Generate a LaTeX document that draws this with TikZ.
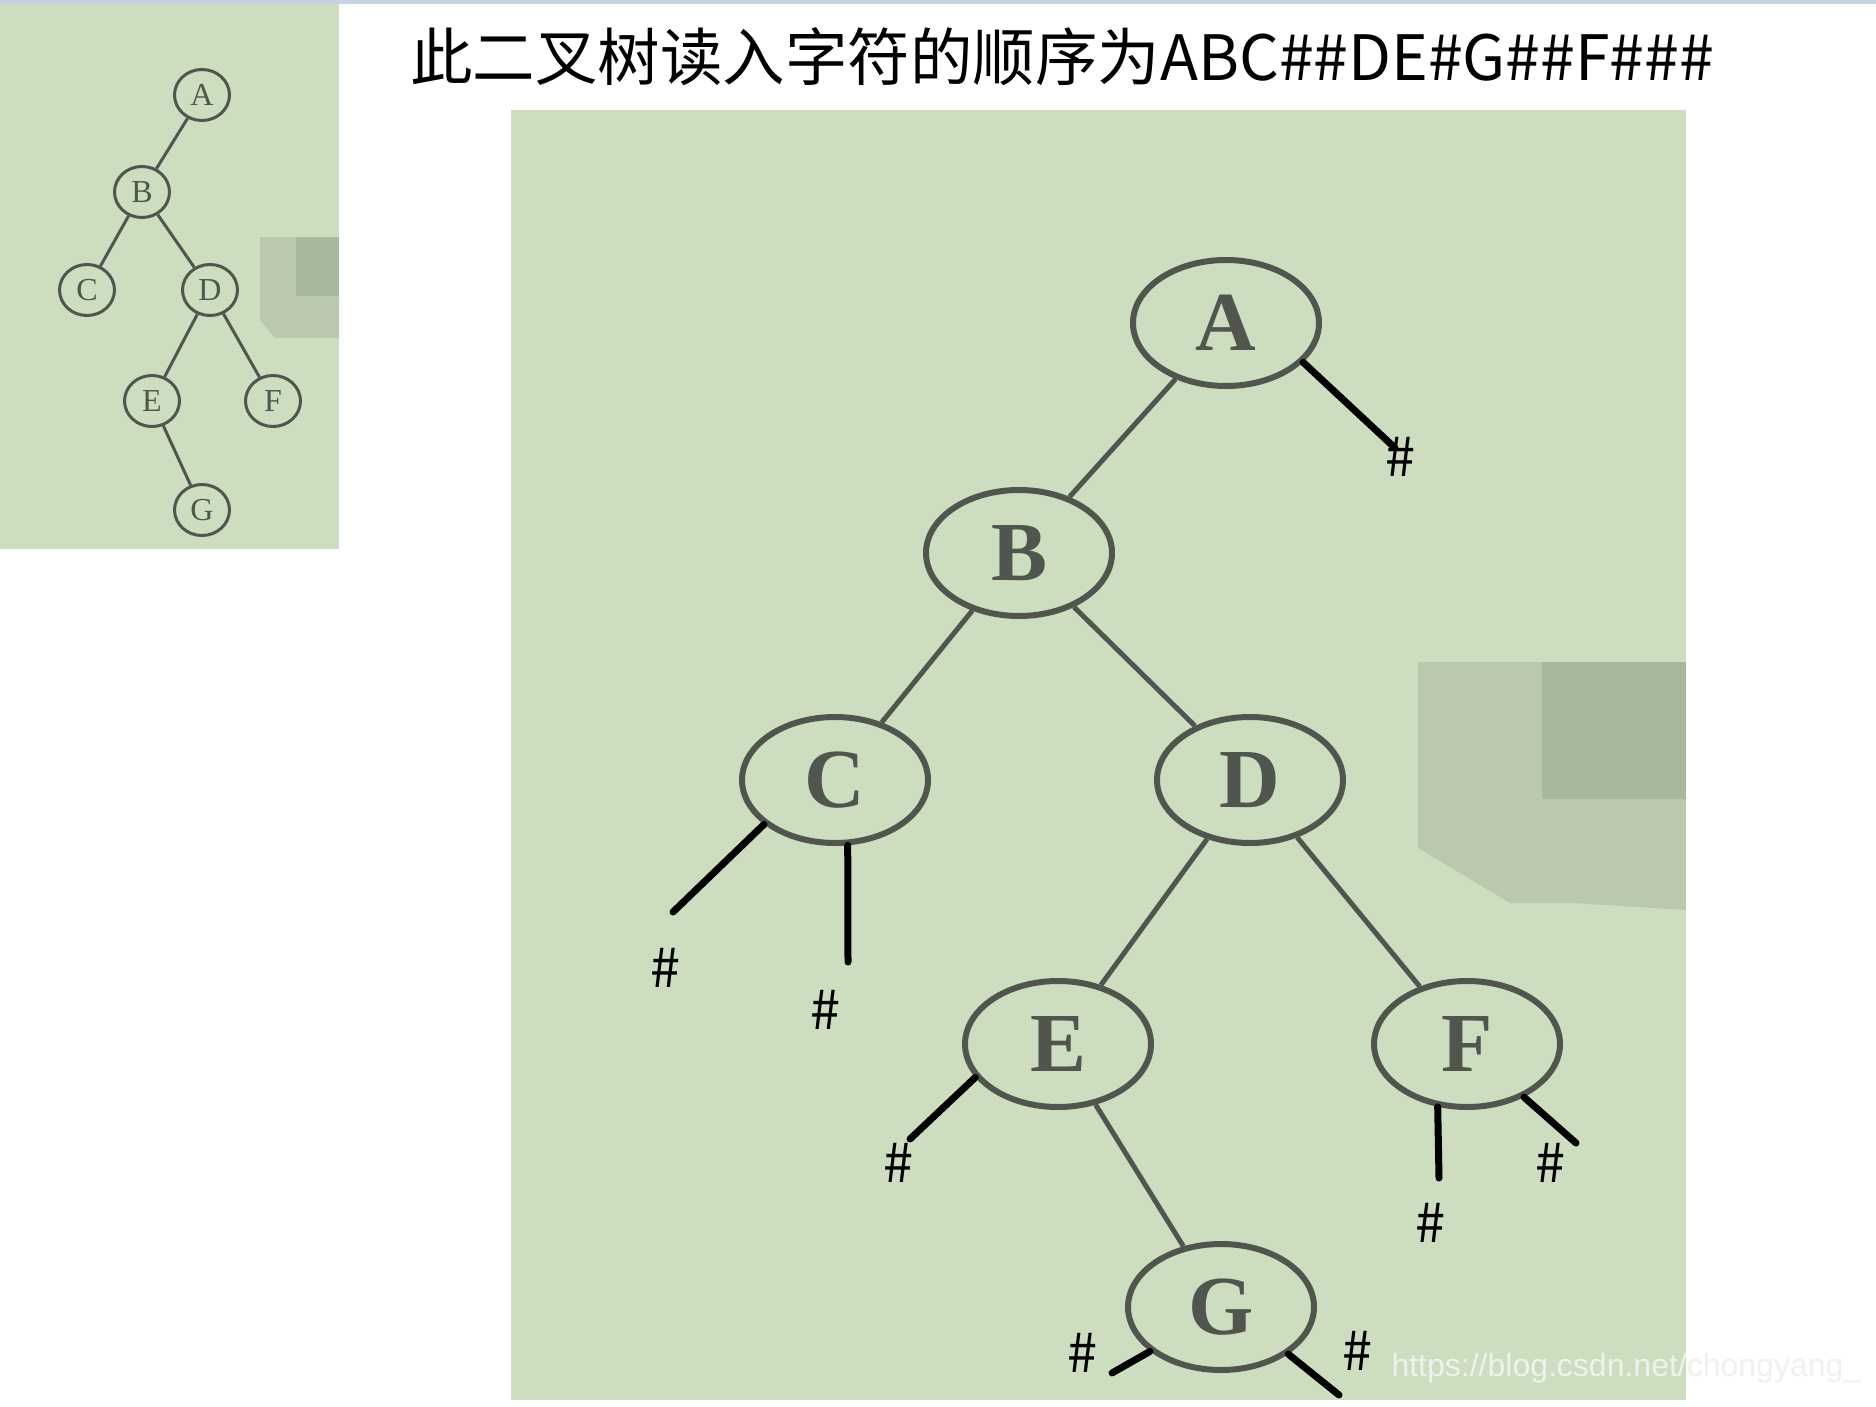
\documentclass[tikz,border=0pt]{standalone}
\usepackage{fontspec}
\setmainfont{Liberation Serif}
\newfontfamily\cjkfont{Noto Sans CJK SC}
\newfontfamily\wmfont{Liberation Sans}
\usetikzlibrary{shapes.geometric}
\definecolor{paper}{RGB}{205,222,192}
\definecolor{shadeA}{RGB}{186,201,173}
\definecolor{shadeB}{RGB}{168,184,156}
\definecolor{ink}{RGB}{80,86,78}
\definecolor{topbar}{RGB}{198,210,224}
\definecolor{mark}{RGB}{238,242,236}

\begin{document}
\begin{tikzpicture}[x=1pt,y=-1pt]
        \tikzstyle{bignode}=[ellipse,line width=6pt,draw=ink,text=ink,minimum width=186pt,minimum height=126pt,inner sep=0pt,font=\bfseries\fontsize{84}{84}\selectfont]
        \tikzstyle{smallnode}=[ellipse,line width=3pt,draw=ink,text=ink,minimum width=55pt,minimum height=51pt,inner sep=0pt,font=\fontsize{32}{32}\selectfont]
        \tikzstyle{branch}=[draw,line width=5pt,ink]
        \tikzstyle{twig}=[draw,line width=3pt,ink]
        \tikzstyle{nil}=[draw,line width=7pt,black,line cap=round]
        \tikzstyle{hash}=[font=\cjkfont\fontsize{54}{54}\selectfont]
        \useasboundingbox[fill=white] (0,0) rectangle (1876,1407);
        \fill[topbar] (0,0) rectangle (1876,4);
        % title
        \node[font=\cjkfont\fontsize{62.5}{62.5}\selectfont] (title) at (1062,57) {此二叉树读入字符的顺序为ABC\#\#DE\#G\#\#F\#\#\#};
       \begin{scope}
         % small picture of the tree
         \fill[paper] (0,4) rectangle (339,549);
         \fill[shadeA] (260,237) -| (339,338) -- (275,338) -- (260,320) -- cycle;
         \fill[shadeB] (296,237) rectangle (339,296);
         \node [smallnode] (a) at (202,95) {A};
         \node [smallnode] (b) at (142,192) {B};
         \node [smallnode] (c) at (87,290) {C};
         \node [smallnode] (d) at (210,290) {D};
         \node [smallnode] (e) at (152,401) {E};
         \node [smallnode] (f) at (273,401) {F};
         \node [smallnode] (g) at (202,510) {G};
         \path[twig] (a) edge (b);
         \path[twig] (b) edge (c);
         \path[twig] (b) edge (d);
         \path[twig] (d) edge (e);
         \path[twig] (d) edge (f);
         \path[twig] (e) edge (g);
        \end{scope}
       \begin{scope}
         % large tree with the empty links
         \fill[paper] (511,110) rectangle (1686,1400);
         \fill[shadeA] (1418,662) -| (1686,910) -- (1572,903) -- (1510,903) -- (1418,848) -- cycle;
         \fill[shadeB] (1542,662) rectangle (1686,799);
         \node [bignode] (A) at (1226,323) {A};
         \node [bignode] (B) at (1019,553) {B};
         \node [bignode] (C) at (835,780) {C};
         \node [bignode] (D) at (1250,780) {D};
         \node [bignode] (E) at (1058,1044) {E};
         \node [bignode] (F) at (1467,1044) {F};
         \node [bignode] (G) at (1221,1307) {G};
         \path[branch] (A) edge (B);
         \path[branch] (B) edge (C);
         \path[branch] (B) edge (D);
         \path[branch] (D) edge (E);
         \path[branch] (D) edge (F);
         \path[branch] (E) edge (G);

         \coordinate (nA) at (1395,448);
         \coordinate (nC1) at (673,912);
         \coordinate (nC2) at (848,962);
         \coordinate (nE) at (910,1139);
         \coordinate (nF1) at (1439,1178);
         \coordinate (nF2) at (1576,1143);
         \coordinate (nG1) at (1112,1373);
         \coordinate (nG2) at (1339,1395);
         \path[nil] (A.-27) -- (nA);
         \path[nil] (C.-148) -- (nC1);
         \path[nil] (C.-79) -- (nC2);
         \path[nil] (E.-158) -- (nE);
         \path[nil] (F.-115) -- (nF1);
         \path[nil] (F.-43) -- (nF2);
         \path[nil] (G.-148) -- (nG1);
         \path[nil] (G.-35) -- (nG2);

         \node [hash] (hA) at (1400,457) {\#};
         \node [hash] (hC1) at (665,968) {\#};
         \node [hash] (hC2) at (825,1010) {\#};
         \node [hash] (hE) at (898,1163) {\#};
         \node [hash] (hF1) at (1430,1223) {\#};
         \node [hash] (hF2) at (1550,1163) {\#};
         \node [hash] (hG1) at (1082,1353) {\#};
         \node [hash] (hG2) at (1357,1351) {\#};
        \end{scope}
        \node[font=\wmfont\fontsize{32}{32}\selectfont,text=mark,anchor=west] (url) at (1388,1368) {https://blog.csdn.net/chongyang\_};
      \end{tikzpicture}
\end{document}
